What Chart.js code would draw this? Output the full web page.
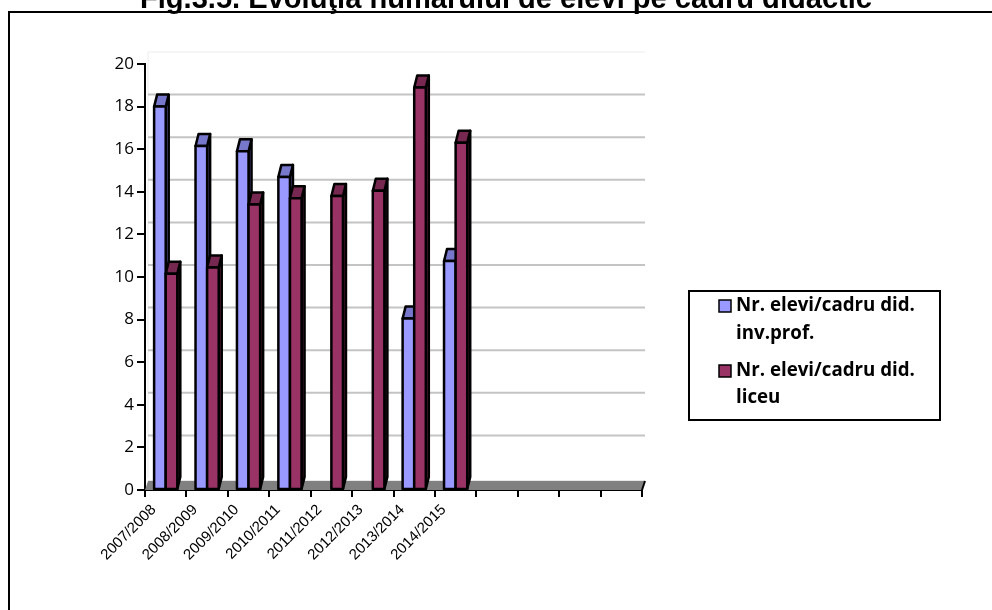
<!DOCTYPE html>
<html>
<head>
<meta charset="utf-8">
<script src="https://cdn.jsdelivr.net/npm/chart.js@4/dist/chart.umd.min.js"></script>
<style>
html,body{margin:0;padding:0;background:#fff;}
#wrap{position:relative;width:992px;height:610px;}
canvas{display:block;}
</style>
</head>
<body>
<div id="wrap"><canvas id="c" width="992" height="610"></canvas></div>
<script>
const chartTitle = 'Fig.3.5. Evoluţia numărului de elevi pe cadru didactic';
const categories = ['2007/2008','2008/2009','2009/2010','2010/2011','2011/2012','2012/2013','2013/2014','2014/2015','','','',''];
const seriesNames = ['Nr. elevi/cadru did. inv.prof.', 'Nr. elevi/cadru did. liceu'];
const legendLines = [['Nr. elevi/cadru did.', 'inv.prof.'], ['Nr. elevi/cadru did.', 'liceu']];
const profValues = [18.0, 16.15, 15.9, 14.7, null, null, 8.05, 10.75, null, null, null, null];
const liceuValues = [10.15, 10.45, 13.4, 13.7, 13.8, 14.05, 18.9, 16.3, null, null, null, null];
const yTicks = [0, 2, 4, 6, 8, 10, 12, 14, 16, 18, 20];

const DX = 3, DY = 12;
const faceColors = [
  {front:'#9999FF', top:'#7777CC', side:'#6666B0'},
  {front:'#993366', top:'#772850', side:'#6A2246'}
];

const decor = {
  id: 'decor',
  beforeDraw(chart) {
    const ctx = chart.ctx;
    ctx.save();
    ctx.fillStyle = '#fff';
    ctx.fillRect(0, 0, chart.width, chart.height);
    ctx.strokeStyle = '#000';
    ctx.lineWidth = 2;
    ctx.beginPath();
    ctx.moveTo(9, 610);
    ctx.lineTo(9, 12);
    ctx.lineTo(992, 12);
    ctx.stroke();
    let fs = 22;
    ctx.font = 'bold ' + fs + 'px "Liberation Sans", Arial, sans-serif';
    const w = ctx.measureText(chartTitle).width;
    fs = fs * 732 / w;
    ctx.font = 'bold ' + fs.toFixed(2) + 'px "Liberation Sans", Arial, sans-serif';
    ctx.fillStyle = '#000';
    ctx.textAlign = 'center';
    ctx.textBaseline = 'alphabetic';
    ctx.fillText(chartTitle, 506, 8);
    ctx.restore();
  },
  beforeDatasetsDraw(chart) {
    const ctx = chart.ctx;
    const a = chart.chartArea;
    const ys = chart.scales.y;
    ctx.save();
    ctx.strokeStyle = '#ececec';
    ctx.lineWidth = 1;
    ctx.beginPath();
    ctx.moveTo(a.left + DX, a.bottom - DY);
    ctx.lineTo(a.left + DX, a.top - DY);
    ctx.lineTo(a.right + DX, a.top - DY);
    ctx.stroke();
    ctx.strokeStyle = '#c4c4c4';
    ctx.lineWidth = 2;
    yTicks.forEach(v => {
      if (v === 0 || v === 20) return;
      const y = ys.getPixelForValue(v) - DY;
      ctx.beginPath();
      ctx.moveTo(a.left + DX, y);
      ctx.lineTo(a.right + DX, y);
      ctx.stroke();
    });
    const b = ys.getPixelForValue(0);
    ctx.fillStyle = '#808080';
    ctx.beginPath();
    ctx.moveTo(a.left, b);
    ctx.lineTo(a.right, b);
    ctx.lineTo(a.right + DX, b - 9);
    ctx.lineTo(a.left + DX, b - 9);
    ctx.closePath();
    ctx.fill();
    ctx.strokeStyle = '#e8e8e8';
    ctx.lineWidth = 1;
    ctx.beginPath();
    ctx.moveTo(a.left + DX, b - 9.5);
    ctx.lineTo(a.right + DX, b - 9.5);
    ctx.stroke();
    ctx.strokeStyle = '#000';
    ctx.lineWidth = 2;
    ctx.beginPath();
    ctx.moveTo(a.right, b);
    ctx.lineTo(a.right + DX, b - 9);
    ctx.stroke();
    ctx.restore();
  },
  afterDatasetsDraw(chart) {
    const ctx = chart.ctx;
    ctx.save();
    ctx.strokeStyle = '#000';
    ctx.lineWidth = 2.5;
    ctx.lineJoin = 'round';
    chart.data.datasets.forEach((ds, i) => {
      const meta = chart.getDatasetMeta(i);
      const col = faceColors[i];
      meta.data.forEach((el, k) => {
        const v = ds.data[k];
        if (v === null || v === undefined) return;
        const p = el.getProps(['x','y','width','base'], true);
        const l = p.x - p.width / 2, r = p.x + p.width / 2;
        ctx.fillStyle = col.side;
        ctx.beginPath();
        ctx.moveTo(r, p.y);
        ctx.lineTo(r + DX, p.y - DY);
        ctx.lineTo(r + DX, p.base - DY);
        ctx.lineTo(r, p.base);
        ctx.closePath();
        ctx.fill();
        ctx.stroke();
        ctx.fillStyle = col.top;
        ctx.beginPath();
        ctx.moveTo(l, p.y);
        ctx.lineTo(r, p.y);
        ctx.lineTo(r + DX, p.y - DY);
        ctx.lineTo(l + DX, p.y - DY);
        ctx.closePath();
        ctx.fill();
        ctx.stroke();
        ctx.fillStyle = col.front;
        ctx.fillRect(l, p.y, p.width, p.base - p.y);
        ctx.strokeRect(l, p.y, p.width, p.base - p.y);
      });
    });
    ctx.restore();
  },
  afterDraw(chart) {
    const ctx = chart.ctx;
    ctx.save();
    ctx.strokeStyle = '#000';
    ctx.lineWidth = 2;
    ctx.strokeRect(689, 291, 251, 129);
    let fs = 16;
    ctx.font = 'bold ' + fs + 'px "Open Sans", "Noto Sans", sans-serif';
    fs = fs * 179 / ctx.measureText(legendLines[0][0]).width;
    ctx.font = 'bold ' + fs.toFixed(2) + 'px "Open Sans", "Noto Sans", sans-serif';
    ctx.textAlign = 'left';
    ctx.textBaseline = 'middle';
    const rows = [[306, 334], [371, 398]];
    chart.data.datasets.forEach((ds, i) => {
      const y0 = rows[i][0];
      ctx.fillStyle = ds.backgroundColor;
      ctx.fillRect(719, y0 - 6, 12, 12);
      ctx.lineWidth = 1.5;
      ctx.strokeRect(719, y0 - 6, 12, 12);
      ctx.fillStyle = '#000';
      ctx.fillText(legendLines[i][0], 736, y0);
      ctx.fillText(legendLines[i][1], 736, rows[i][1]);
    });
    ctx.restore();
  }
};

new Chart(document.getElementById('c'), {
  type: 'bar',
  data: {
    labels: categories,
    datasets: [
      {label: seriesNames[0], data: profValues, backgroundColor: '#9999FF', borderColor: '#000', borderWidth: 2},
      {label: seriesNames[1], data: liceuValues, backgroundColor: '#993366', borderColor: '#000', borderWidth: 2}
    ]
  },
  options: {
    responsive: false,
    animation: false,
    events: [],
    layout: {padding: {top: 64, right: 350, left: 0, bottom: 0}},
    datasets: {bar: {categoryPercentage: 0.56, barPercentage: 1.0}},
    plugins: {legend: {display: false}, title: {display: false}, tooltip: {enabled: false}},
    scales: {
      x: {
        afterFit(s) { s.height = 120; },
        grid: {offset: true, drawOnChartArea: false, drawTicks: true, tickLength: 7, color: '#000', lineWidth: 2},
        border: {display: true, color: '#000', width: 2},
        ticks: {autoSkip: false, maxRotation: 45, minRotation: 45, color: '#000', padding: 4, labelOffset: -12,
          font: {family: '"Liberation Sans", Arial, sans-serif', size: 15}}
      },
      y: {
        min: 0, max: 20,
        afterFit(s) { s.width = 145; },
        afterBuildTicks(s) { s.ticks = yTicks.map(v => ({value: v})); },
        grid: {drawOnChartArea: false, drawTicks: true, tickLength: 8, color: '#000', lineWidth: 2},
        border: {display: true, color: '#000', width: 2},
        ticks: {color: '#000', padding: 3, font: {family: '"Open Sans", "Noto Sans", sans-serif', size: 17}}
      }
    }
  },
  plugins: [decor]
});
</script>
</body>
</html>
